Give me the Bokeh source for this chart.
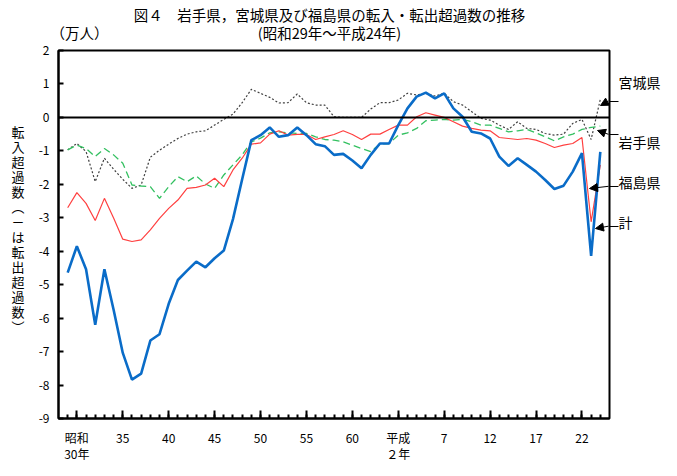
from bokeh.plotting import figure
from bokeh.models import (Range1d, FixedTicker, Span, Arrow, NormalHead, LinearAxis)
from bokeh.embed import file_html
from bokeh.resources import INLINE

years = list(range(1954, 2013))

total = [-4.64, -3.85, -4.54, -6.20, -4.54, -5.75, -7.04, -7.84, -7.66, -6.67,
         -6.48, -5.57, -4.86, -4.58, -4.31, -4.48, -4.21, -3.98, -3.04, -1.85,
         -0.68, -0.53, -0.30, -0.58, -0.53, -0.30, -0.53, -0.80, -0.86, -1.12,
         -1.09, -1.29, -1.52, -1.12, -0.78, -0.78, -0.23, 0.27, 0.62, 0.74,
         0.57, 0.72, 0.27, 0.02, -0.43, -0.48, -0.63, -1.17, -1.45, -1.22,
         -1.42, -1.62, -1.87, -2.14, -2.04, -1.62, -1.07, -4.14, -1.03]

fukushima = [-2.70, -2.25, -2.57, -3.08, -2.42, -3.01, -3.64, -3.71, -3.66, -3.36,
             -3.02, -2.72, -2.47, -2.12, -2.09, -2.02, -1.82, -2.07, -1.57, -1.22,
             -0.80, -0.76, -0.50, -0.40, -0.53, -0.51, -0.51, -0.66, -0.58, -0.51,
             -0.40, -0.51, -0.66, -0.50, -0.50, -0.36, -0.23, -0.23, 0.02, 0.14,
             0.07, 0.00, -0.13, -0.26, -0.33, -0.38, -0.40, -0.60, -0.63, -0.66,
             -0.63, -0.68, -0.78, -0.90, -0.83, -0.78, -0.60, -3.12, -1.42]

iwate = [-0.97, -0.83, -0.93, -1.17, -0.93, -1.12, -1.37, -2.02, -2.05, -2.07,
         -2.42, -2.07, -1.77, -1.92, -1.75, -1.99, -2.12, -1.72, -1.42, -1.12,
         -0.73, -0.62, -0.46, -0.43, -0.46, -0.48, -0.48, -0.58, -0.66, -0.68,
         -0.73, -0.83, -0.93, -1.02, -0.80, -0.78, -0.53, -0.46, -0.33, -0.10,
         -0.08, -0.06, -0.08, -0.06, -0.13, -0.23, -0.23, -0.33, -0.43, -0.40,
         -0.36, -0.46, -0.58, -0.70, -0.58, -0.50, -0.36, -0.30, -0.26]

miyagi = [-0.97, -0.78, -1.02, -1.92, -1.22, -1.55, -1.85, -2.12, -2.02, -1.19,
          -0.98, -0.80, -0.63, -0.50, -0.43, -0.40, -0.23, -0.06, 0.10, 0.44,
          0.84, 0.72, 0.60, 0.43, 0.44, 0.70, 0.44, 0.37, 0.37, 0.02,
          0.00, 0.00, 0.00, 0.25, 0.44, 0.44, 0.52, 0.72, 0.67, 0.72,
          0.64, 0.72, 0.47, 0.37, 0.17, -0.03, -0.08, -0.23, -0.36, -0.13,
          -0.33, -0.36, -0.48, -0.53, -0.50, -0.18, -0.06, -0.66, 0.54]

x_ticks = [1955, 1960, 1965, 1970, 1975, 1980, 1985, 1990, 1995, 2000, 2005, 2010]
x_tick_labels = ["昭和\n30年", "35", "40", "45", "50", "55", "60", "平成\n２年",
                 "7", "12", "17", "22"]
y_ticks = list(range(-9, 3))

title1 = "図４　岩手県，宮城県及び福島県の転入・転出超過数の推移"
title2 = "(昭和29年～平成24年)"
unit_label = "（万人）"
y_label_chars = ["転", "入", "超", "過", "数", "︵", "－", "は", "転", "出", "超", "過", "数", "︶"]
series_names = ["宮城県", "岩手県", "福島県", "計"]

FONT = "Noto Sans CJK JP"
W, H = 677, 476

# frame geometry (pixels)
L, R, T, B = 58, 609, 50, 418
X0, X1 = 1953, 2013
Y0, Y1 = -9, 2


def dx(px):
    return X0 + (px - L) * (X1 - X0) / (R - L)


def dy(py):
    return Y1 - (py - T) * (Y1 - Y0) / (B - T)


p = figure(width=W, height=H, output_backend="svg", toolbar_location=None,
           x_range=Range1d(X0, X1), y_range=Range1d(Y0, Y1),
           min_border_left=L, min_border_right=W - R,
           min_border_top=T, min_border_bottom=H - B)
p.background_fill_color = "white"
p.border_fill_color = "white"
p.xgrid.visible = False
p.ygrid.visible = False
p.outline_line_color = "black"
p.outline_line_width = 2

# bottom axis
p.xaxis.ticker = FixedTicker(ticks=x_ticks, minor_ticks=years)
p.xaxis.major_label_overrides = {t: l for t, l in zip(x_ticks, x_tick_labels)}
p.xaxis.major_tick_in = 8
p.xaxis.major_tick_out = 0
p.xaxis.minor_tick_in = 4
p.xaxis.minor_tick_out = 0
p.xaxis.axis_line_width = 2
p.xaxis.major_tick_line_width = 2
p.xaxis.minor_tick_line_width = 2
p.xaxis.major_label_standoff = 10
p.xaxis.major_label_text_font = FONT
p.xaxis.major_label_text_font_size = "12px"
p.xaxis.major_label_text_color = "black"
p.xaxis.major_label_text_line_height = 0.95

# left axis
p.yaxis.ticker = FixedTicker(ticks=y_ticks)
p.yaxis.major_label_overrides = {t: str(t) for t in y_ticks}
p.yaxis.major_tick_in = 5
p.yaxis.major_tick_out = 0
p.yaxis.minor_tick_in = 0
p.yaxis.minor_tick_out = 0
p.yaxis.axis_line_width = 2
p.yaxis.major_tick_line_width = 2
p.yaxis.major_label_standoff = 9
p.yaxis.major_label_text_font = FONT
p.yaxis.major_label_text_font_size = "12px"
p.yaxis.major_label_text_color = "black"

# vertical (stacked) y-axis title as a second, bare left axis
ylab_pos = [dy(131 + i * 15.0) for i in range(len(y_label_chars))]
ylab_axis = LinearAxis(ticker=FixedTicker(ticks=ylab_pos),
                       major_label_overrides={t: c for t, c in zip(ylab_pos, y_label_chars)},
                       axis_line_color=None, major_tick_line_color=None,
                       minor_tick_line_color=None, major_label_standoff=5,
                       major_label_text_font=FONT, major_label_text_font_size="13px",
                       major_label_text_color="black")
p.add_layout(ylab_axis, "left")

# top: unit label, and the two-line title, on a bare axis
top_pos = [dx(79), dx(329)]
top_axis = LinearAxis(ticker=FixedTicker(ticks=top_pos),
                      major_label_overrides={top_pos[0]: unit_label,
                                             top_pos[1]: title1 + "\n" + title2},
                      axis_line_color=None, major_tick_line_color=None,
                      minor_tick_line_color=None, major_label_standoff=2,
                      major_label_text_font=FONT, major_label_text_font_size="14.5px",
                      major_label_text_color="black",
                      major_label_text_line_height=0.85)
p.add_layout(top_axis, "above")

# zero line and series
p.add_layout(Span(location=0, dimension="width", line_color="black", line_width=2))

p.line(years, miyagi, line_color="#404040", line_width=1.2, line_dash="2 2")
p.line(years, iwate, line_color="#33C060", line_width=1.3, line_dash="7 4")
p.line(years, fukushima, line_color="#FF4040", line_width=1.2)
p.line(years, total, line_color="#0A6CC8", line_width=2.6)

# right side: short connectors (ticks) then series names
conn_pos = [dy(100.6), dy(133.8), dy(185.8), dy(225.7)]
conn_axis = LinearAxis(ticker=FixedTicker(ticks=conn_pos),
                       major_label_overrides={t: "" for t in conn_pos},
                       axis_line_color=None, major_tick_in=0, major_tick_out=9,
                       major_tick_line_color="black", major_tick_line_width=1,
                       minor_tick_line_color=None, major_label_standoff=0,
                       major_label_text_font_size="1px")
p.add_layout(conn_axis, "right")

name_pos = [dy(81.7), dy(141.7), dy(181.7), dy(221.7)]
name_axis = LinearAxis(ticker=FixedTicker(ticks=name_pos),
                       major_label_overrides={t: n for t, n in zip(name_pos, series_names)},
                       axis_line_color=None, major_tick_line_color=None,
                       minor_tick_line_color=None, major_label_standoff=-6,
                       major_label_text_font=FONT, major_label_text_font_size="14px",
                       major_label_text_color="black")
p.add_layout(name_axis, "right")

arrows = [((608, 100.6), (600, 105)),
          ((608, 133.8), (597, 130)),
          ((608, 185.8), (589, 188)),
          ((608, 225.7), (595, 228))]
for (ax, ay), (ex, ey) in arrows:
    p.add_layout(Arrow(end=NormalHead(size=8, fill_color="black", line_color="black"),
                       x_start=dx(ax), y_start=dy(ay), x_end=dx(ex), y_end=dy(ey),
                       line_color="black", line_width=1))

open("out.html", "w").write(file_html(p, INLINE))
